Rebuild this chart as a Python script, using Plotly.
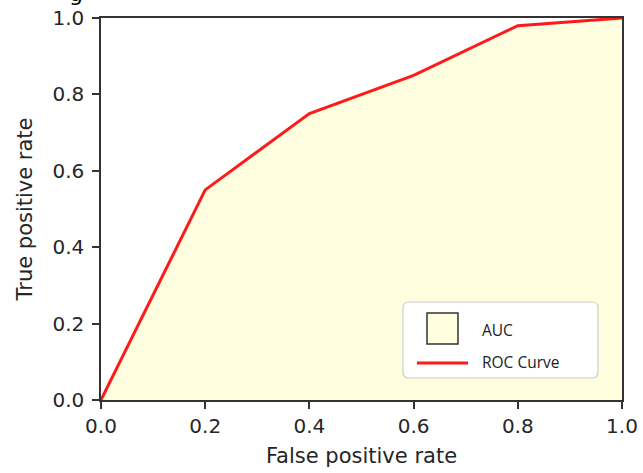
import plotly.graph_objects as go

fpr = [0.0, 0.2, 0.4, 0.6, 0.8, 1.0]
tpr = [0.0, 0.55, 0.75, 0.85, 0.98, 1.0]
tick_vals = [0.0, 0.2, 0.4, 0.6, 0.8, 1.0]
tick_text = ["0.0", "0.2", "0.4", "0.6", "0.8", "1.0"]
legend_labels = ["AUC", "ROC Curve"]

W, H = 643, 473
L, R, T, B = 101, 21, 18, 73
pw, ph = W - L - R, H - T - B

def px(x):
    return (x - L) / pw

def py(y):
    return (H - B - y) / ph

fill_col = "#FFFFE0"
axis_col = "#333333"
font_fam = "DejaVu Sans"

fig = go.Figure()
fig.add_trace(go.Scatter(x=fpr, y=tpr, mode="lines", fill="tozeroy",
                         fillcolor=fill_col, line=dict(color=fill_col, width=0),
                         showlegend=False, hoverinfo="skip"))
fig.add_trace(go.Scatter(x=fpr, y=tpr, mode="lines",
                         line=dict(color="#FF1A1A", width=3),
                         showlegend=False))

axis_common = dict(range=[0, 1], tickvals=tick_vals, ticktext=tick_text,
                   showgrid=False, zeroline=False, showline=True, mirror=True,
                   linecolor=axis_col, linewidth=1.5, ticks="outside",
                   ticklen=7, tickwidth=1.5, tickcolor=axis_col, automargin=False,
                   tickfont=dict(family=font_fam, size=20, color="#262626"))

fig.update_layout(
    width=W, height=H,
    margin=dict(l=L, r=R, t=T, b=B, autoexpand=False),
    paper_bgcolor="white", plot_bgcolor="white",
    xaxis=dict(**axis_common,
               title=dict(text="False positive rate", standoff=12,
                          font=dict(family=font_fam, size=21, color="#262626"))),
    yaxis=dict(**axis_common, ticklabelstandoff=4,
               title=dict(text="True positive rate", standoff=14,
                          font=dict(family=font_fam, size=21, color="#262626"))),
    showlegend=False,
)

# manual legend
x0, x1 = px(403), px(598)
y0, y1 = py(378), py(302)
rx, ry = 6 / pw, 6 / ph
path = (f"M{x0+rx},{y0} L{x1-rx},{y0} Q{x1},{y0} {x1},{y0+ry} "
        f"L{x1},{y1-ry} Q{x1},{y1} {x1-rx},{y1} L{x0+rx},{y1} "
        f"Q{x0},{y1} {x0},{y1-ry} L{x0},{y0+ry} Q{x0},{y0} {x0+rx},{y0} Z")
fig.add_shape(type="path", path=path, xref="paper", yref="paper",
              fillcolor="white", line=dict(color="#CCCCCC", width=1.2))
fig.add_shape(type="rect", xref="paper", yref="paper",
              x0=px(427), x1=px(458), y0=py(344), y1=py(313),
              fillcolor=fill_col, line=dict(color="#333333", width=1.5))
fig.add_shape(type="line", xref="paper", yref="paper",
              x0=px(417), x1=px(468), y0=py(363), y1=py(363),
              line=dict(color="#FF1A1A", width=3))
for lab, yy in zip(legend_labels, [330, 362]):
    fig.add_annotation(text=lab, xref="paper", yref="paper", x=px(480), y=py(yy),
                       xanchor="left", yanchor="middle", showarrow=False,
                       font=dict(family="Open Sans", size=15.5, color="#222222"))

# cropped title descender at the top edge
fig.add_annotation(text="g", xref="paper", yref="paper", x=px(76), y=py(8),
                   xanchor="center", yanchor="bottom", showarrow=False,
                   font=dict(family=font_fam, size=22, color="black"))

fig.write_html("out.html")
